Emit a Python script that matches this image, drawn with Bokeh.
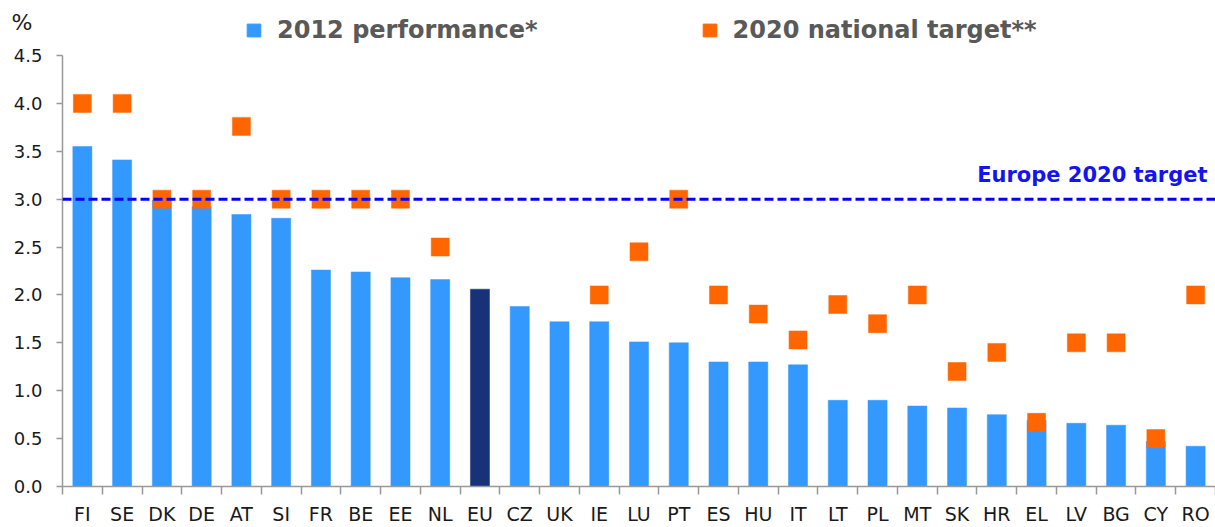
from bokeh.plotting import figure
from bokeh.layouts import column
from bokeh.models import (Range1d, LinearAxis, FixedTicker,
                          Span, Label, Legend, LegendItem, ColumnDataSource, NumeralTickFormatter)
from bokeh.embed import file_html
from bokeh.resources import INLINE

countries = ["FI", "SE", "DK", "DE", "AT", "SI", "FR", "BE", "EE", "NL", "EU", "CZ", "UK", "IE",
             "LU", "PT", "ES", "HU", "IT", "LT", "PL", "MT", "SK", "HR", "EL", "LV", "BG", "CY", "RO"]
perf_2012 = [3.55, 3.41, 2.99, 2.92, 2.84, 2.80, 2.26, 2.24, 2.18, 2.16, 2.06, 1.88, 1.72, 1.72,
             1.51, 1.50, 1.30, 1.30, 1.27, 0.90, 0.90, 0.84, 0.82, 0.75, 0.69, 0.66, 0.64, 0.47, 0.42]
target_2020 = [4.0, 4.0, 3.0, 3.0, 3.76, 3.0, 3.0, 3.0, 3.0, 2.5, None, None, None, 2.0,
               2.45, 3.0, 2.0, 1.8, 1.53, 1.9, 1.7, 2.0, 1.2, 1.4, 0.67, 1.5, 1.5, 0.5, 2.0]
eu_target = 3.0
y_ticks = [0.0, 0.5, 1.0, 1.5, 2.0, 2.5, 3.0, 3.5, 4.0, 4.5]
legend_labels = ["2012 performance*", "2020 national target**"]
unit_label = "%"

BLUE = "#3399FF"
NAVY = "#173278"
ORANGE = "#FF6600"
FONT = "DejaVu Sans"
W, H_HEAD, H_MAIN = 1215, 44, 483

n = len(countries)
centers = [i + 0.5 for i in range(n)]
bounds = list(range(n + 1))
bar_colors = [NAVY if c == "EU" else BLUE for c in countries]
tx = [x for x, t in zip(centers, target_2020) if t is not None]
ty = [t for t in target_2020 if t is not None]

# ---------------- main chart ----------------
p = figure(width=W, height=H_MAIN, x_range=Range1d(0, n), y_range=Range1d(0, 4.5),
           output_backend="svg", toolbar_location=None, x_axis_location=None,
           min_border_left=62, min_border_right=0, min_border_top=11, min_border_bottom=0)
p.outline_line_color = None
p.xgrid.grid_line_color = None
p.ygrid.grid_line_color = None

bar_src = ColumnDataSource(dict(x=centers, top=perf_2012, color=bar_colors))
p.vbar(x="x", top="top", width=0.48, source=bar_src, fill_color="color",
       line_color="color", line_alpha=0.5)
p.rect(x=tx, y=ty, width=18, height=18, width_units="screen", height_units="screen",
       fill_color=ORANGE, line_color=ORANGE, line_alpha=0.5)

p.add_layout(Span(location=eu_target, dimension="width", line_color="#0000FF",
                  line_width=3, line_dash="9 4"))
p.add_layout(Label(x=n, y=eu_target, x_offset=-8, y_offset=24, text="Europe 2020 target",
                   text_align="right", text_baseline="alphabetic", text_font=FONT,
                   text_font_style="bold", text_font_size="21px", text_color="#1414F0"))

yax = p.yaxis[0]
yax.ticker = FixedTicker(ticks=y_ticks)
yax.formatter = NumeralTickFormatter(format="0.0")
yax.major_label_text_font = FONT
yax.major_label_text_font_size = "18px"
yax.major_label_text_color = "#1a1a1a"
yax.major_label_standoff = 14
yax.axis_line_color = "#999999"
yax.axis_line_width = 1.5
yax.major_tick_line_color = "#999999"
yax.major_tick_line_width = 1.5
yax.major_tick_in = 0
yax.major_tick_out = 6
yax.minor_tick_line_color = None

tick_axis = LinearAxis(ticker=FixedTicker(ticks=bounds),
                       major_label_overrides={b: "" for b in bounds},
                       major_label_text_font_size="1px", major_label_standoff=0,
                       axis_line_color="#999999", axis_line_width=1.5,
                       major_tick_line_color="#999999", major_tick_line_width=1.5,
                       major_tick_in=0, major_tick_out=8, minor_tick_line_color=None)
p.add_layout(tick_axis, "below")
label_axis = LinearAxis(ticker=FixedTicker(ticks=centers),
                        major_label_overrides={x: c for x, c in zip(centers, countries)},
                        axis_line_color=None, major_tick_line_color=None, minor_tick_line_color=None,
                        major_label_text_font=FONT, major_label_text_font_size="19px",
                        major_label_text_color="#1a1a1a", major_label_standoff=2)
p.add_layout(label_axis, "below")

# ---------------- header: legend and unit ----------------
h = figure(width=W, height=H_HEAD, x_range=Range1d(0, 1), y_range=Range1d(H_HEAD, 0),
           output_backend="svg", toolbar_location=None, x_axis_location=None,
           min_border_left=62, min_border_right=0, min_border_top=0, min_border_bottom=0)
h.outline_line_color = None
h.grid.visible = False
hax = h.yaxis[0]
hax.ticker = FixedTicker(ticks=[22])
hax.major_label_overrides = {22: unit_label}
hax.major_label_text_font = FONT
hax.major_label_text_font_size = "22px"
hax.major_label_text_color = "#1a1a1a"
hax.major_label_standoff = 24
hax.major_tick_line_color = None
hax.minor_tick_line_color = None
hax.axis_line_color = None

hb = h.vbar(x=centers, top=perf_2012, width=0.48, fill_color=BLUE, line_color=BLUE, visible=False)
hr = h.rect(x=tx, y=ty, width=18, height=18, width_units="screen", height_units="screen",
            fill_color=ORANGE, line_color=ORANGE, visible=False)
legend = Legend(items=[LegendItem(label=legend_labels[0], renderers=[hb], index=0),
                       LegendItem(label=legend_labels[1], renderers=[hr], index=0)],
                orientation="horizontal", location=(183, 0), spacing=163,
                glyph_width=17, glyph_height=16, label_standoff=15,
                label_text_font=FONT, label_text_font_style="bold", label_text_font_size="24px",
                label_text_color="#595959", border_line_color=None, background_fill_alpha=0,
                inactive_fill_alpha=0, padding=0, margin=0)
h.add_layout(legend)

layout = column(h, p, spacing=0)
open("out.html", "w").write(file_html(layout, INLINE))
